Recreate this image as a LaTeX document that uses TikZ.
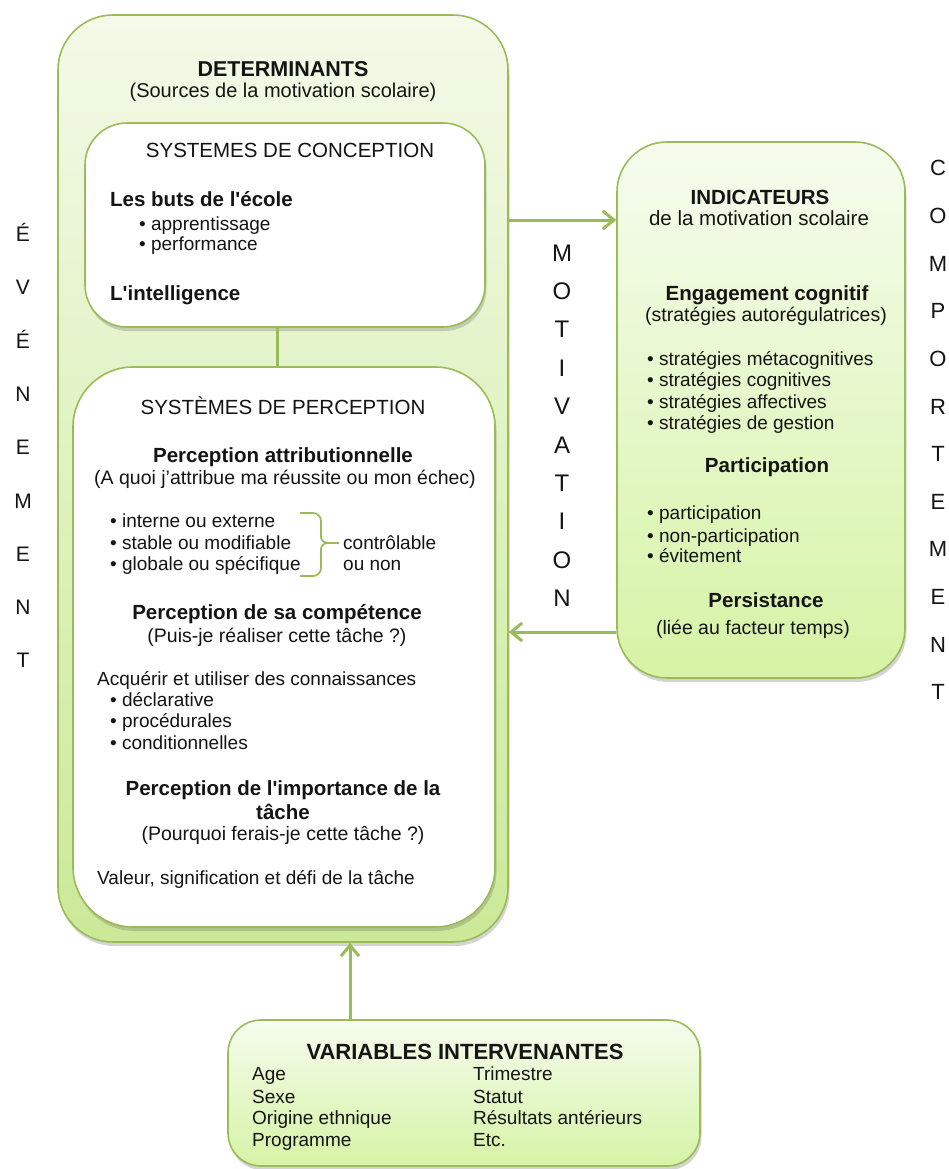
\documentclass[tikz,border=0pt]{standalone}
\usepackage{fontspec}
\setmainfont{Liberation Sans}
\usetikzlibrary{arrows.meta,shadows}
\definecolor{grn}{HTML}{9BBB59}
\definecolor{otop}{HTML}{F3FAE8}
\definecolor{obot}{HTML}{CBE997}
\definecolor{itop}{HTML}{F5FCEE}
\definecolor{ibot}{HTML}{D6F3A5}
\definecolor{ink}{HTML}{141414}
\newcommand{\apos}{\textquotesingle}
\begin{document}
\begin{tikzpicture}[x=1pt,y=-1pt,
  box/.style={draw=grn,line width=1.6pt,inner sep=0pt},
  gshadow/.style={drop shadow={shadow xshift=1.5pt,shadow yshift=-4pt,opacity=0.28,fill=black!60}},
  wbox/.style={box,fill=white,gshadow},
  txt/.style={inner sep=0pt,text=ink,yshift=-5pt,font=\fontsize{19}{22}\selectfont},
  sub/.style={txt,font=\fontsize{19.5}{22}\selectfont},
  hd/.style={txt,font=\bfseries\fontsize{20.5}{24}\selectfont},
  ttl/.style={txt,font=\bfseries\fontsize{21.5}{24}\selectfont},
  capt/.style={txt,font=\fontsize{20.5}{24}\selectfont},
  sidel/.style={inner sep=0pt,text=ink,anchor=base},
  link/.style={draw=grn,line width=3pt},
  arr/.style={link,-{Straight Barb[length=11pt,width=18pt]}},
  bracel/.style={draw=grn,line width=1.8pt,line join=round}
]
\fill[white] (0,0) rectangle (949,1169);
\useasboundingbox (0,0) rectangle (949,1169);

% ---------- boxes ----------
\node[box,gshadow,rounded corners=55pt,minimum width=450pt,minimum height=927pt,
      top color=otop,bottom color=obot] (det) at (283,478.5) {};
\node[wbox,rounded corners=42pt,minimum width=400pt,minimum height=204pt] (conc) at (285,225) {};
\node[wbox,rounded corners=60pt,minimum width=422pt,minimum height=560pt] (perc) at (284,647) {};
\node[box,gshadow,rounded corners=50pt,minimum width=288pt,minimum height=536pt,
      top color=itop,bottom color=ibot] (ind) at (761,410) {};
\node[box,gshadow,rounded corners=33pt,minimum width=472pt,minimum height=146pt,
      top color=itop,bottom color=ibot] (var) at (464,1093) {};

% ---------- connectors ----------
\coordinate (ya) at (0,220);
\coordinate (yb) at (0,632);
\coordinate (xc) at (277,0);
\coordinate (xv) at (350,0);
\draw[arr] (det.east |- ya) -- (ind.west |- ya);
\draw[arr] (ind.west |- yb) -- (det.east |- yb);
\draw[link] (xc |- conc.south) -- (xc |- perc.north);
\draw[arr] (xv |- var.north) -- (xv |- det.south);

% ---------- DETERMINANTS ----------
\node[ttl,anchor=mid] (tdet) at (283,69) {DETERMINANTS};
\node[txt,font=\fontsize{20}{22}\selectfont,anchor=mid] (tsrc) at (283,90) {(Sources de la motivation scolaire)};

\node[capt,anchor=mid] (tconc) at (290,150) {SYSTEMES DE CONCEPTION};
\node[hd,anchor=mid west] (tbuts) at (110,199) {Les buts de l\apos école};
\node[txt,anchor=mid west] (tb1) at (139,223) {• apprentissage};
\node[txt,anchor=mid west] (tb2) at (139,243) {• performance};
\node[hd,anchor=mid west] (tint) at (110,293) {L\apos intelligence};

\node[capt,anchor=mid] (tperc) at (283,407) {SYSTÈMES DE PERCEPTION};
\node[hd,anchor=mid] (tattr) at (283,455) {Perception attributionnelle};
\node[sub,anchor=mid] (tattrq) at (285,477) {(A quoi j’attribue ma réussite ou mon échec)};
\node[txt,anchor=mid west] (ta1) at (110,520) {• interne ou externe};
\node[txt,anchor=mid west] (ta2) at (110,542) {• stable ou modifiable};
\node[txt,anchor=mid west] (ta3) at (110,563) {• globale ou spécifique};
\draw[bracel] (300,513) -- (313,513) to[out=0,in=90] (321,521) -- (321,537)
  to[out=-90,in=180] (328,543) -- (339,543);
\draw[bracel] (328,543) to[out=180,in=90] (321,549) -- (321,568)
  to[out=-90,in=0] (313,576) -- (300,576);
\node[txt,anchor=mid west] (tctl) at (343,542) {contrôlable};
\node[txt,anchor=mid west] (tctl2) at (343,563) {ou non};

\node[hd,anchor=mid] (tcomp) at (277,612) {Perception de sa compétence};
\node[sub,anchor=mid] (tcompq) at (277,635) {(Puis-je réaliser cette tâche ?)};
\node[txt,anchor=mid west] (tacq) at (97,678) {Acquérir et utiliser des connaissances};
\node[txt,anchor=mid west] (tc1) at (110,699) {• déclarative};
\node[txt,anchor=mid west] (tc2) at (110,720) {• procédurales};
\node[txt,anchor=mid west] (tc3) at (110,742) {• conditionnelles};

\node[hd,anchor=mid] (timp) at (283,788) {Perception de l\apos importance de la};
\node[hd,anchor=mid] (timp2) at (283,812) {tâche};
\node[sub,anchor=mid] (timpq) at (283,833) {(Pourquoi ferais-je cette tâche ?)};
\node[txt,anchor=mid west] (tval) at (97,877) {Valeur, signification et défi de la tâche};

% ---------- INDICATEURS ----------
\node[hd,anchor=mid] (tind) at (760,197) {INDICATEURS};
\node[txt,font=\fontsize{20.5}{22}\selectfont,anchor=mid] (tindq) at (759,218) {de la motivation scolaire};
\node[hd,anchor=mid] (teng) at (767,293) {Engagement cognitif};
\node[sub,anchor=mid] (tengq) at (766,314) {(stratégies autorégulatrices)};
\node[txt,anchor=mid west] (ts1) at (647,358) {• stratégies métacognitives};
\node[txt,anchor=mid west] (ts2) at (647,379) {• stratégies cognitives};
\node[txt,anchor=mid west] (ts3) at (647,401) {• stratégies affectives};
\node[txt,anchor=mid west] (ts4) at (647,422) {• stratégies de gestion};
\node[hd,anchor=mid] (tpart) at (767,465) {Participation};
\node[txt,anchor=mid west] (tp1) at (647,512) {• participation};
\node[txt,anchor=mid west] (tp2) at (647,535) {• non-participation};
\node[txt,anchor=mid west] (tp3) at (647,555) {• évitement};
\node[hd,anchor=mid] (tpers) at (766,600) {Persistance};
\node[sub,anchor=mid] (tpersq) at (753,627) {(liée au facteur temps)};

% ---------- VARIABLES ----------
\node[txt,font=\bfseries\fontsize{22}{24}\selectfont,anchor=mid] (tvar) at (465,1052) {VARIABLES INTERVENANTES};
\node[txt,anchor=mid west] (tv1) at (252,1073) {Age};
\node[txt,anchor=mid west] (tv2) at (252,1096) {Sexe};
\node[txt,anchor=mid west] (tv3) at (252,1117) {Origine ethnique};
\node[txt,anchor=mid west] (tv4) at (252,1139) {Programme};
\node[txt,anchor=mid west] (tv5) at (473,1073) {Trimestre};
\node[txt,anchor=mid west] (tv6) at (473,1096) {Statut};
\node[txt,anchor=mid west] (tv7) at (473,1117) {Résultats antérieurs};
\node[txt,anchor=mid west] (tv8) at (473,1139) {Etc.};

% ---------- vertical words ----------
\foreach \l [count=\i] in {É,V,É,N,E,M,E,N,T}
  \node[sidel,font=\fontsize{21}{24}\selectfont] (ev\i) at (23,{241.5+53.3*(\i-1)}) {\l};
\foreach \l [count=\i] in {M,O,T,I,V,A,T,I,O,N}
  \node[sidel,font=\fontsize{24}{26}\selectfont] (mo\i) at (562,{261+38.4*(\i-1)}) {\l};
\foreach \l [count=\i] in {C,O,M,P,O,R,T,E,M,E,N,T}
  \node[sidel,font=\fontsize{22}{24}\selectfont] (co\i) at (938,{176+47.6*(\i-1)}) {\l};
\end{tikzpicture}
\end{document}
